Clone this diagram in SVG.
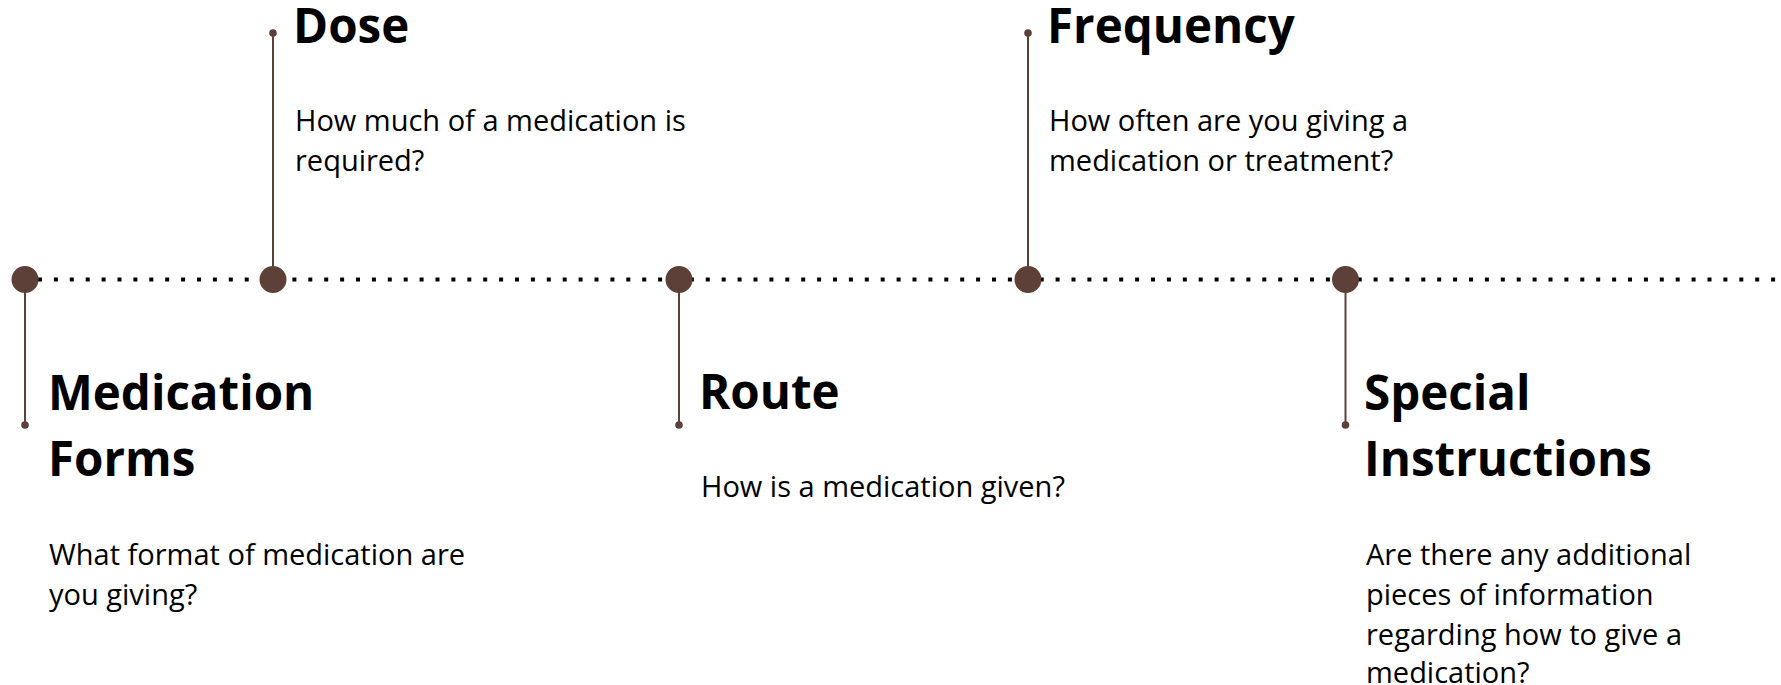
<svg xmlns="http://www.w3.org/2000/svg" width="1781" height="685" viewBox="0 0 1781 685">
<style>
.h{font-family:"Open Sans","Noto Sans","Liberation Sans",sans-serif;font-weight:700;font-size:47.5px;fill:#000}
.d{font-family:"Open Sans","Noto Sans","Liberation Sans",sans-serif;font-weight:400;font-size:29px;fill:#000}
.stem{stroke:#5d4037;stroke-width:2}
.big{fill:#5d4037}
.tip{fill:#5d4037}
.dots{stroke:#000;stroke-width:4;stroke-dasharray:4 11.9;fill:none}
</style>
<rect width="1781" height="685" fill="#fff"/>
<g id="connectors">
<line class="dots" x1="38" y1="279.5" x2="1781" y2="279.5"/>
<line class="stem" x1="25" y1="279.5" x2="25" y2="425"/>
<line class="stem" x1="273" y1="33" x2="273" y2="279.5"/>
<line class="stem" x1="679" y1="279.5" x2="679" y2="425"/>
<line class="stem" x1="1028" y1="33" x2="1028" y2="279.5"/>
<line class="stem" x1="1345.5" y1="279.5" x2="1345.5" y2="425"/>
</g>
<g id="node-medication-forms">
<circle class="big" cx="25" cy="279.5" r="13.5"/>
<circle class="tip" cx="25" cy="425" r="3.8"/>
<text class="h" x="48" y="410">Medication</text>
<text class="h" x="48" y="476">Forms</text>
<text class="d" x="49" y="565">What format of medication are</text>
<text class="d" x="49" y="605">you giving?</text>
</g>
<g id="node-dose">
<circle class="big" cx="273" cy="279.5" r="13.5"/>
<circle class="tip" cx="273" cy="33" r="3.8"/>
<text class="h" x="293" y="43">Dose</text>
<text class="d" x="295" y="131">How much of a medication is</text>
<text class="d" x="295" y="171">required?</text>
</g>
<g id="node-route">
<circle class="big" cx="679" cy="279.5" r="13.5"/>
<circle class="tip" cx="679" cy="425" r="3.8"/>
<text class="h" x="699" y="409">Route</text>
<text class="d" x="701" y="497">How is a medication given?</text>
</g>
<g id="node-frequency">
<circle class="big" cx="1028" cy="279.5" r="13.5"/>
<circle class="tip" cx="1028" cy="33" r="3.8"/>
<text class="h" x="1047" y="43">Frequency</text>
<text class="d" x="1049" y="131">How often are you giving a</text>
<text class="d" x="1049" y="171">medication or treatment?</text>
</g>
<g id="node-special-instructions">
<circle class="big" cx="1345.5" cy="279.5" r="13.5"/>
<circle class="tip" cx="1345.5" cy="425" r="3.8"/>
<text class="h" x="1364" y="410">Special</text>
<text class="h" x="1364" y="476">Instructions</text>
<text class="d" x="1366" y="565">Are there any additional</text>
<text class="d" x="1366" y="605">pieces of information</text>
<text class="d" x="1366" y="645">regarding how to give a</text>
<text class="d" x="1366" y="683">medication?</text>
</g>
</svg>
